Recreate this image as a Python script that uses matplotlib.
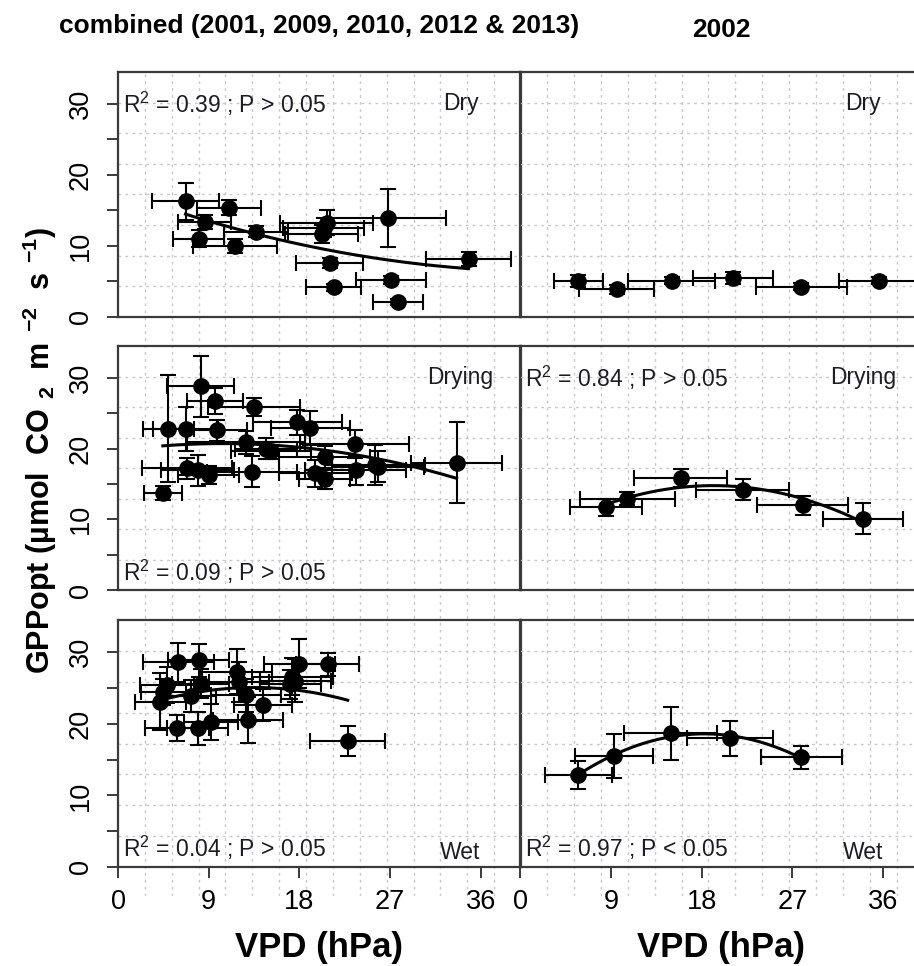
import numpy as np
import matplotlib
matplotlib.use('Agg')
import matplotlib.pyplot as plt

plt.rcParams['font.family'] = ['Liberation Sans', 'DejaVu Sans']
plt.rcParams['mathtext.default'] = 'regular'

# ---------------- data ----------------
# combined (2001, 2009, 2010, 2012 & 2013) - Dry
c_dry_x    = [6.7, 11.0, 8.6, 8.0, 11.6, 13.7, 20.7, 20.4, 20.2, 26.8, 34.8, 21.0, 27.1, 21.4, 27.8]
c_dry_y    = [16.3, 15.4, 13.4, 11.0, 10.0, 12.0, 13.3, 12.6, 11.7, 13.9, 8.2, 7.6, 5.2, 4.2, 2.1]
c_dry_xerr = [3.3, 3.2, 2.6, 2.5, 4.2, 3.2, 4.6, 4.0, 3.6, 5.8, 4.2, 3.3, 3.5, 2.7, 2.5]
c_dry_yerr = [2.6, 1.1, 1.0, 1.2, 1.0, 0.8, 1.8, 1.3, 1.3, 4.1, 1.0, 0.7, 0.6, 0.5, 0.4]

# 2002 - Dry
y02_dry_x    = [5.75, 9.55, 15.0, 21.1, 27.9, 35.6]
y02_dry_y    = [5.1, 3.9, 5.1, 5.5, 4.25, 5.1]
y02_dry_xerr = [2.4, 3.7, 4.3, 4.0, 4.5, 4.0]
y02_dry_yerr = [0.85, 0.6, 0.5, 0.9, 0.5, 0.5]

# combined - Drying
c_dri_x    = [8.2, 9.6, 13.5, 5.0, 6.7, 9.8, 17.8, 19.1, 12.7, 14.7, 15.2, 23.5,
              20.5, 25.5, 25.8, 23.6, 19.6, 20.5, 33.6, 13.3, 6.85, 7.9, 9.0, 4.45]
c_dri_y    = [28.8, 26.7, 25.9, 22.8, 22.8, 22.6, 23.7, 22.9, 20.9, 20.0, 19.7, 20.6,
              18.8, 17.7, 17.4, 16.9, 16.5, 15.7, 18.0, 16.7, 17.2, 16.9, 16.3, 13.7]
c_dri_xerr = [3.3, 2.8, 4.6, 2.5, 3.2, 3.0, 4.4, 3.9, 5.9, 3.1, 4.0, 5.4,
              4.5, 5.0, 4.6, 5.0, 3.6, 2.5, 4.5, 4.5, 4.5, 3.6, 3.0, 1.9]
c_dri_yerr = [4.35, 1.8, 1.3, 7.6, 3.1, 1.5, 1.8, 2.4, 1.6, 1.5, 1.2, 2.0,
              1.5, 2.8, 2.2, 2.1, 1.9, 1.4, 5.7, 2.2, 1.5, 2.2, 1.3, 1.0]

# 2002 - Drying
y02_dri_x    = [8.5, 10.6, 15.9, 22.05, 28.0, 34.0]
y02_dri_y    = [11.7, 12.9, 15.8, 14.2, 12.0, 10.1]
y02_dri_xerr = [3.6, 4.7, 4.6, 4.65, 4.55, 4.0]
y02_dri_yerr = [1.2, 0.95, 1.25, 1.5, 1.35, 2.25]

# combined - Wet
c_wet_x    = [6.0, 8.0, 11.8, 18.0, 20.8, 17.3, 17.6, 17.1, 4.85, 8.2, 12.0,
              4.2, 7.2, 12.7, 14.4, 5.85, 7.9, 9.25, 12.9, 22.8, 4.5]
c_wet_y    = [28.6, 28.9, 27.3, 28.4, 28.3, 26.6, 26.0, 25.5, 25.4, 25.6, 25.9,
              23.1, 23.9, 24.0, 22.6, 19.4, 19.4, 20.3, 20.5, 17.6, 24.4]
c_wet_xerr = [3.5, 3.0, 3.5, 3.5, 3.1, 4.0, 3.5, 3.0, 2.7, 2.8, 3.0,
              2.5, 2.5, 3.5, 2.9, 3.2, 3.0, 2.7, 3.5, 3.7, 2.2]
c_wet_yerr = [2.7, 2.3, 3.2, 3.4, 1.6, 2.6, 3.0, 2.0, 2.5, 2.0, 2.8,
              4.0, 2.2, 2.3, 2.2, 1.8, 2.3, 2.5, 3.2, 2.1, 1.8]

# 2002 - Wet
y02_wet_x    = [5.75, 9.3, 14.9, 20.8, 27.9]
y02_wet_y    = [12.9, 15.5, 18.65, 17.95, 15.3]
y02_wet_xerr = [3.3, 3.9, 4.6, 4.25, 4.05]
y02_wet_yerr = [1.95, 3.1, 3.7, 2.5, 1.65]

col_titles = ['combined (2001, 2009, 2010, 2012 & 2013)', '2002']
row_labels = ['Dry', 'Drying', 'Wet']
stats = {(0, 0): 'R$^2$ = 0.39 ; P > 0.05', (1, 0): 'R$^2$ = 0.09 ; P > 0.05',
         (1, 1): 'R$^2$ = 0.84 ; P > 0.05', (2, 0): 'R$^2$ = 0.04 ; P > 0.05',
         (2, 1): 'R$^2$ = 0.97 ; P < 0.05'}
x_ticks = [0, 9, 18, 27, 36]
y_ticks = [0, 10, 20, 30]
y_minor = [5, 15, 25]
xlabel = 'VPD (hPa)'
ylabel = r'GPPopt (µmol  CO$\ _{2}$  m$\ ^{-2}$  s$\ ^{-1}$)'

panels = {
    (0, 0): (c_dry_x, c_dry_y, c_dry_xerr, c_dry_yerr, True),
    (0, 1): (y02_dry_x, y02_dry_y, y02_dry_xerr, y02_dry_yerr, False),
    (1, 0): (c_dri_x, c_dri_y, c_dri_xerr, c_dri_yerr, True),
    (1, 1): (y02_dri_x, y02_dri_y, y02_dri_xerr, y02_dri_yerr, True),
    (2, 0): (c_wet_x, c_wet_y, c_wet_xerr, c_wet_yerr, True),
    (2, 1): (y02_wet_x, y02_wet_y, y02_wet_xerr, y02_wet_yerr, True),
}

# ---------------- layout ----------------
W, H = 914, 966
fig = plt.figure(figsize=(W / 100, H / 100), dpi=100)

XLIM = (0, 40)
YLIM = (0, 34.5)
col_left = [118, 520.4]
col_w = 403
rows = [(72, 317), (346, 590), (620, 867)]
GRID_KW = dict(color='#c8c8c8', lw=1.0, linestyle=(0, (2, 3)))
TXT = '#1c1c24'
SPINE = '#3a3a3a'

def rect(l, t, w, b):
    return [l / W, 1 - b / H, w / W, (b - t) / H]

# vertical grid lines spanning the whole column (as in the original)
vgrid = [XLIM[1] * k / 15 for k in range(1, 15)]
for c in range(2):
    bg = fig.add_axes(rect(col_left[c], 72, col_w, 896), zorder=0)
    bg.set_xlim(*XLIM)
    bg.set_ylim(0, 1)
    bg.axis('off')
    for gx in vgrid:
        bg.axvline(gx, **GRID_KW)

hgrid = [YLIM[1] * k / 8 for k in range(1, 8)]

for (r, c), (x, y, xe, ye, has_fit) in panels.items():
    t, b = rows[r]
    ax = fig.add_axes(rect(col_left[c], t, col_w, b), zorder=1)
    ax.set_facecolor('none')
    ax.set_xlim(*XLIM)
    ax.set_ylim(*YLIM)
    for gy in hgrid:
        ax.axhline(gy, zorder=0, **GRID_KW)
    for s in ax.spines.values():
        s.set_color(SPINE)
        s.set_linewidth(1.6)

    ax.errorbar(x, y, xerr=xe, yerr=ye, fmt='o', color='black', ms=11,
                elinewidth=1.5, capsize=5.5, capthick=1.5, zorder=3)
    if has_fit:
        coef = np.polyfit(x, y, 2)
        xs = np.linspace(min(x), max(x), 200)
        ax.plot(xs, np.polyval(coef, xs), color='black', lw=2.2, zorder=4)

    # texts
    if (r, c) in stats:
        sy = 30.0 if (r == 0 or (r == 1 and c == 1)) else 2.6
        ax.text(0.5, sy, stats[(r, c)], ha='left', va='center', fontsize=16.5, color=TXT)
    ly = 2.0 if r == 2 else 30.0
    ax.text(34, ly, row_labels[r], ha='center', va='center', fontsize=16.5, color=TXT)

    # ticks
    if r == 2:
        ax.set_xticks(x_ticks)
        ax.set_xticklabels([str(v) for v in x_ticks])
        ax.tick_params(axis='x', length=8, width=1.4, pad=8, labelsize=19.5, color=SPINE)
    else:
        ax.set_xticks([])
    if c == 0:
        ax.set_yticks(y_ticks)
        ax.set_yticks(y_minor, minor=True)
        ax.set_yticklabels([str(v) for v in y_ticks], rotation=90, va='center')
        ax.tick_params(axis='y', which='both', length=8, width=1.4, pad=9.5,
                       labelsize=19.5, color=SPINE)
    else:
        ax.set_yticks([])

# x axis titles (one per column, centred under each bottom panel)
for c in range(2):
    fig.text((col_left[c] + 201) / W, 2 / H, xlabel, ha='center', va='bottom',
             fontsize=25, fontweight='bold')

# column titles
fig.text(319 / W, 1 - 26 / H, col_titles[0], ha='center', va='center',
         fontsize=19, fontweight='bold')
fig.text(721 / W, 1 - 30 / H, col_titles[1], ha='center', va='center',
         fontsize=19, fontweight='bold')

# y label
fig.text(40 / W, 1 - 450 / H, ylabel, rotation=90, ha='center', va='center',
         fontsize=22, fontweight='bold')

fig.savefig('out.png', dpi=100)
